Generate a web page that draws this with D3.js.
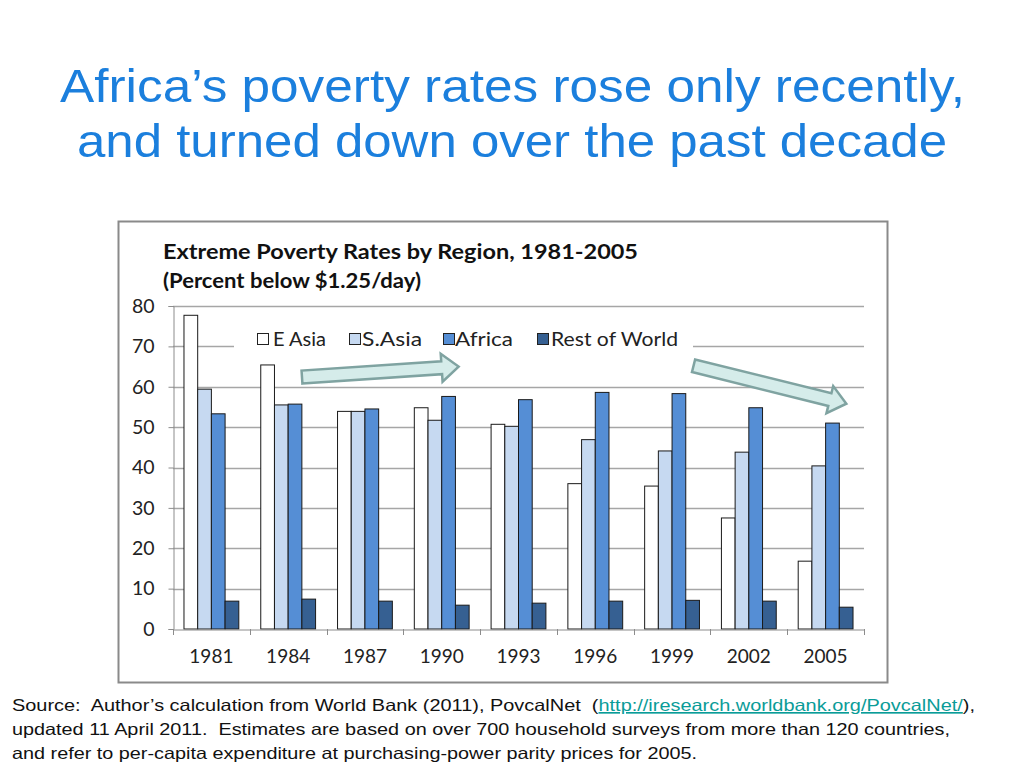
<!DOCTYPE html>
<html>
<head>
<meta charset="utf-8">
<script src="https://cdn.jsdelivr.net/npm/d3@7"></script>
<style>
  html, body { margin: 0; padding: 0; background: #fff; }
  svg { display: block; }
  text { white-space: pre; }
</style>
</head>
<body>
<script>
// ---------- data ----------
const years = ["1981", "1984", "1987", "1990", "1993", "1996", "1999", "2002", "2005"];
const series = ["E Asia", "S.Asia", "Africa", "Rest of World"];
const eAsia  = [77.7, 65.4, 53.9, 54.8, 50.7, 36.0, 35.4, 27.5, 16.8];
const sAsia  = [59.4, 55.5, 53.9, 51.7, 50.2, 46.9, 44.1, 43.8, 40.4];
const africa = [53.3, 55.7, 54.5, 57.6, 56.8, 58.6, 58.3, 54.8, 51.0];
const rest   = [6.9, 7.4, 6.9, 5.9, 6.4, 6.9, 7.1, 6.9, 5.4];
const yTicks = [0, 10, 20, 30, 40, 50, 60, 70, 80];
const colors = ["#ffffff", "#c6d9f1", "#558ed5", "#366092"];
// annotation arrows in data space: [categoryIndex, value] tail -> tip
const arrows = [
  { from: [1.68, 62.4], to: [3.72, 65.0] },
  { from: [6.78, 65.2], to: [8.77, 55.8] }
];

const values = [eAsia, sAsia, africa, rest];

const W = 1024, H = 768;
const svg = d3.select("body").append("svg").attr("width", W).attr("height", H);

// ---------- slide title ----------
const titleColor = "#1b7fdd";
const titleFont = "Liberation Sans, Arial, sans-serif";
svg.append("text").attr("x", 60).attr("y", 102)
  .attr("font-family", titleFont)
  .attr("font-size", 47).attr("fill", titleColor)
  .attr("textLength", 905).attr("lengthAdjust", "spacingAndGlyphs")
  .text("Africa\u2019s poverty rates rose only recently,");
svg.append("text").attr("x", 77).attr("y", 157)
  .attr("font-family", titleFont)
  .attr("font-size", 47).attr("fill", titleColor)
  .attr("textLength", 870).attr("lengthAdjust", "spacingAndGlyphs")
  .text("and turned down over the past decade");

// ---------- chart frame ----------
svg.append("rect").attr("x", 118.5).attr("y", 221.5).attr("width", 769).attr("height", 461)
  .attr("fill", "#fff").attr("stroke", "#8a8a8a").attr("stroke-width", 2);

const chartFont = "Lato, Carlito, Calibri, sans-serif";
svg.append("text").attr("x", 163).attr("y", 259)
  .attr("font-family", chartFont).attr("font-weight", "bold").attr("font-size", 21).attr("fill", "#111")
  .attr("textLength", 475).attr("lengthAdjust", "spacingAndGlyphs")
  .text("Extreme Poverty Rates by Region, 1981-2005");
svg.append("text").attr("x", 163).attr("y", 288)
  .attr("font-family", chartFont).attr("font-weight", "bold").attr("font-size", 21).attr("fill", "#111")
  .attr("textLength", 258).attr("lengthAdjust", "spacingAndGlyphs")
  .text("(Percent below $1.25/day)");

// ---------- scales ----------
const x0 = d3.scaleBand().domain(years).range([173, 864]).padding(0);
const bw = x0.bandwidth();
const x1 = d3.scaleBand().domain(series).range([bw * 0.143, bw * 0.857]).padding(0);
const y = d3.scaleLinear().domain([0, 80]).range([629, 306]);
const xi = d3.scaleLinear().domain([0, years.length]).range([173, 864]);

// gridlines
const g = svg.append("g");
g.selectAll("line.grid").data(yTicks.filter(d => d > 0)).enter().append("line")
  .attr("x1", 173).attr("x2", 864)
  .attr("y1", d => Math.round(y(d)) + 0.5).attr("y2", d => Math.round(y(d)) + 0.5)
  .attr("stroke", "#a6a6a6").attr("stroke-width", 1.3);

// y axis
const yAxis = d3.axisLeft(y).tickValues(yTicks).tickSize(5).tickPadding(14);
const ya = svg.append("g").attr("transform", "translate(173.5,0)").call(yAxis);
ya.select(".domain").attr("stroke", "#8c8c8c");
ya.selectAll(".tick line").attr("stroke", "#8c8c8c");
ya.selectAll(".tick text").attr("font-family", chartFont).attr("font-size", 19.5).attr("fill", "#222");

// bars
const groups = svg.selectAll("g.year").data(years).enter().append("g")
  .attr("transform", d => `translate(${x0(d)},0)`);
groups.selectAll("rect").data((d, i) => series.map((s, j) => ({ s, j, v: values[j][i] })))
  .enter().append("rect")
  .attr("x", d => x1(d.s))
  .attr("width", x1.bandwidth())
  .attr("y", d => y(d.v))
  .attr("height", d => y(0) - y(d.v))
  .attr("fill", d => colors[d.j])
  .attr("stroke", "#1a1a1a").attr("stroke-width", 1);

// x axis
const xAxis = d3.axisBottom(x0).tickSize(0).tickPadding(20);
const xa = svg.append("g").attr("transform", "translate(0,629.5)").call(xAxis);
xa.select(".domain").attr("stroke", "#8c8c8c");
xa.selectAll(".tick text").attr("font-family", chartFont).attr("font-size", 19).attr("fill", "#222");
// category boundary ticks
svg.append("g").selectAll("line").data(d3.range(years.length + 1)).enter().append("line")
  .attr("x1", d => Math.round(xi(d)) + 0.5).attr("x2", d => Math.round(xi(d)) + 0.5)
  .attr("y1", 629).attr("y2", 635)
  .attr("stroke", "#8c8c8c");

// legend
const legX = [257, 349, 443, 537];
const legTextX = [273, 362, 455, 551];
const legTextW = [53, 60, 58, 127];
svg.append("rect").attr("x", 234).attr("y", 328).attr("width", 459).attr("height", 24).attr("fill", "#fff");
const leg = svg.append("g");
series.forEach((s, i) => {
  leg.append("rect").attr("x", legX[i] + 0.5).attr("y", 333.5).attr("width", 11).attr("height", 11)
    .attr("fill", colors[i]).attr("stroke", "#222").attr("stroke-width", 1);
  leg.append("text").attr("x", legTextX[i]).attr("y", 346)
    .attr("font-family", chartFont).attr("font-size", 19.5).attr("fill", "#222")
    .attr("textLength", legTextW[i]).attr("lengthAdjust", "spacingAndGlyphs")
    .text(s);
});

// arrows
function arrowPath(a) {
  const x0p = xi(a.from[0]), y0p = y(a.from[1]);
  const x1p = xi(a.to[0]), y1p = y(a.to[1]);
  const dx = x1p - x0p, dy = y1p - y0p, L = Math.hypot(dx, dy);
  const ux = dx / L, uy = dy / L, nx = -uy, ny = ux;
  const sw = 6.5, hw = 14, hl = 17;
  const bx = x1p - ux * hl, by = y1p - uy * hl;
  const pts = [
    [x0p + nx * sw, y0p + ny * sw],
    [bx + nx * sw, by + ny * sw],
    [bx + nx * hw, by + ny * hw],
    [x1p, y1p],
    [bx - nx * hw, by - ny * hw],
    [bx - nx * sw, by - ny * sw],
    [x0p - nx * sw, y0p - ny * sw]
  ];
  return "M" + pts.map(p => p.join(",")).join("L") + "Z";
}
svg.selectAll("path.arrow").data(arrows).enter().append("path")
  .attr("d", arrowPath)
  .attr("fill", "#d5ecea").attr("stroke", "#7fa3a1").attr("stroke-width", 2.5)
  .attr("stroke-linejoin", "miter");

// ---------- source note ----------
const srcFont = "Liberation Sans, Arial, sans-serif";
const src = svg.append("g").attr("font-family", srcFont).attr("font-size", 16.5).attr("fill", "#111");
const l1 = src.append("text").attr("x", 12).attr("y", 711)
  .attr("textLength", 963).attr("lengthAdjust", "spacingAndGlyphs");
l1.append("tspan").text("Source:  Author\u2019s calculation from World Bank (2011), PovcalNet  (");
l1.append("tspan").attr("fill", "#0a9c98").attr("text-decoration", "underline")
  .text("http://iresearch.worldbank.org/PovcalNet/");
l1.append("tspan").text("),");
src.append("text").attr("x", 12).attr("y", 735)
  .attr("textLength", 938).attr("lengthAdjust", "spacingAndGlyphs")
  .text("updated 11 April 2011.  Estimates are based on over 700 household surveys from more than 120 countries,");
src.append("text").attr("x", 12).attr("y", 759)
  .attr("textLength", 685).attr("lengthAdjust", "spacingAndGlyphs")
  .text("and refer to per-capita expenditure at purchasing-power parity prices for 2005.");
</script>
</body>
</html>
